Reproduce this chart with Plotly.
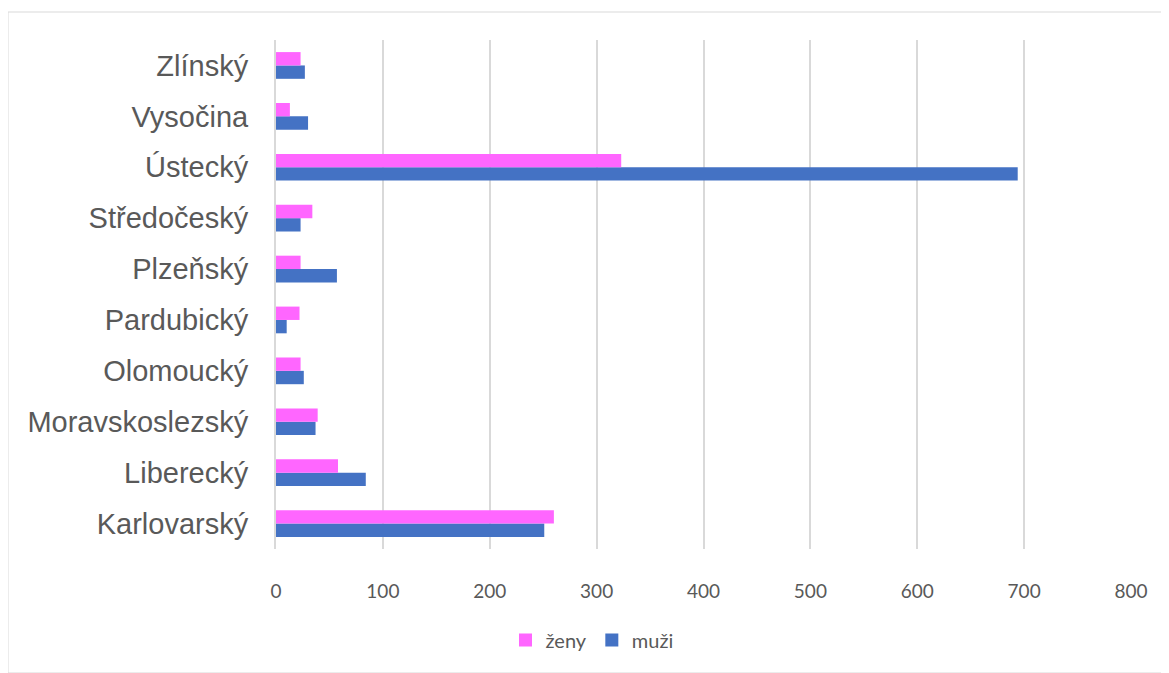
import plotly.graph_objects as go

categories = ["Karlovarský", "Liberecký", "Moravskoslezský", "Olomoucký", "Pardubický",
              "Plzeňský", "Středočeský", "Ústecký", "Vysočina", "Zlínský"]
zeny = [260, 58, 39, 23, 22, 23, 34, 323, 13, 23]
muzi = [251, 84, 37, 26, 10, 57, 23, 694, 30, 27]
x_ticks = [0, 100, 200, 300, 400, 500, 600, 700, 800]

# page is offset by 8px body margin
W, H = 1161, 665
L, R, T, B = 268, 38, 32, 124
pw, ph = W - L - R, H - T - B

C_Z, C_M = "#FF66FF", "#4472C4"

fig = go.Figure()
fig.add_trace(go.Bar(y=categories, x=muzi, name="muži", orientation="h",
                     marker=dict(color=C_M, line=dict(width=0)), showlegend=False))
fig.add_trace(go.Bar(y=categories, x=zeny, name="ženy", orientation="h",
                     marker=dict(color=C_Z, line=dict(width=0)), showlegend=False))
# legend entries with larger square swatches
fig.add_trace(go.Scatter(x=[None], y=[None], mode="markers", name="ženy",
                         marker=dict(symbol="square", size=13, color=C_Z), legendrank=1))
fig.add_trace(go.Scatter(x=[None], y=[None], mode="markers", name="muži",
                         marker=dict(symbol="square", size=13, color=C_M), legendrank=2))

fig.update_layout(
    width=W, height=H,
    margin=dict(l=L, r=R, t=T, b=B),
    paper_bgcolor="white", plot_bgcolor="white",
    barmode="group", bargap=0.475, bargroupgap=0,
    showlegend=True,
    legend=dict(orientation="h", x=(592 - 8 - L) / pw, xanchor="center",
                y=(H - B - 632) / ph, yanchor="middle",
                font=dict(family="Lato, Open Sans, sans-serif", size=20, color="#595959"),
                itemwidth=30, tracegroupgap=0),
    xaxis=dict(range=[0, 800], tickvals=x_ticks, showgrid=True, gridcolor="#d9d9d9", gridwidth=1.5,
               zeroline=False, showline=False, ticks="",
               tickfont=dict(family="Lato, Open Sans, sans-serif", size=19, color="#595959"),
               ticklabelstandoff=29, fixedrange=True),
    yaxis=dict(showgrid=False, zeroline=False, showline=True, linecolor="#d9d9d9", linewidth=2,
               ticks="", tickfont=dict(family="Liberation Sans, Arial, sans-serif", size=29, color="#595959"),
               ticklabelstandoff=20, categoryorder="array", categoryarray=categories),
)

# outer chart border
fig.add_shape(type="rect", xref="paper", yref="paper",
              x0=(0 - L) / pw, x1=(1159 - L) / pw,
              y0=(H - B - 665) / ph, y1=(H - B - 4) / ph,
              line=dict(color="#d9d9d9", width=1), fillcolor="rgba(0,0,0,0)", layer="below")

fig.write_html("out.html")
